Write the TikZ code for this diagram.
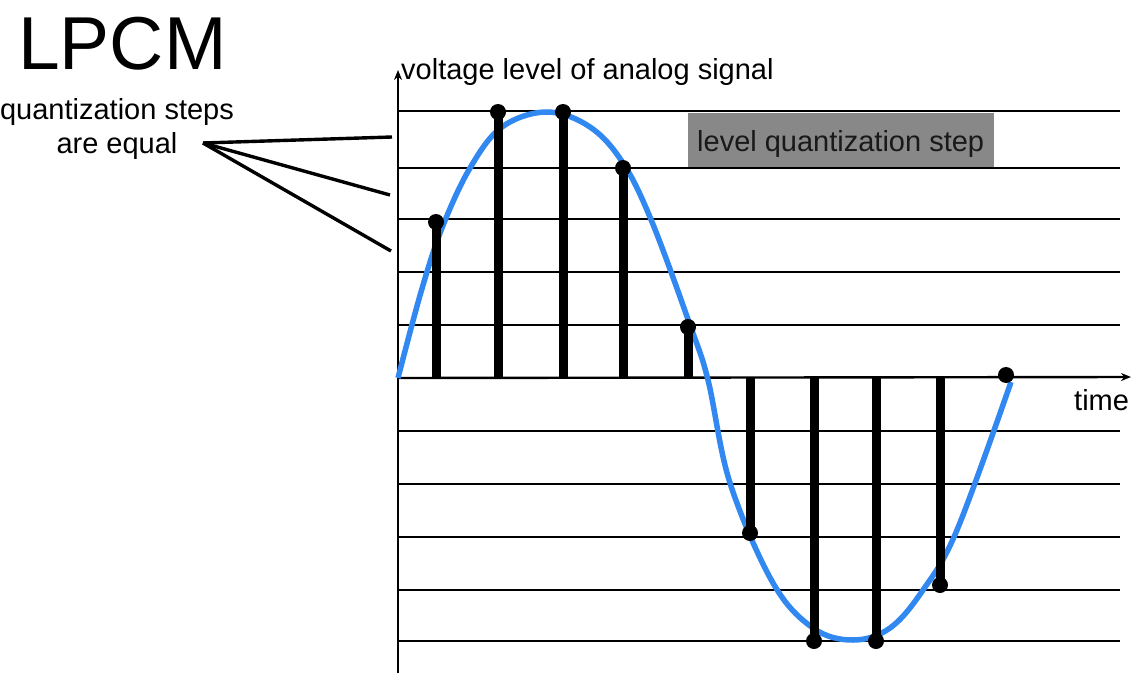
\documentclass[tikz,border=0pt]{standalone}
\usepackage{fontspec}
\setmainfont{Liberation Sans}
\usetikzlibrary{arrows.meta}
\definecolor{sigblue}{RGB}{48,136,240}
\definecolor{boxgray}{RGB}{136,136,136}
\tikzset{
  gridline/.style={line width=2.4pt,black},
  axisline/.style={line width=2.4pt,black,-{Stealth[length=10pt,width=8pt]}},
  stem/.style={line width=9pt,black},
  sdot/.style={circle,fill=black,inner sep=0pt,minimum size=16pt},
  pointer/.style={line width=3.4pt,black},
  lbl/.style={font=\fontsize{29}{33}\selectfont,inner sep=0pt},
  signal/.style={line width=5.5pt,sigblue}
}
\begin{document}
\begin{tikzpicture}[x=1pt,y=-1pt]
\useasboundingbox (0,0) rectangle (1142,674);
% gray box
\fill[boxgray] (688,113) rectangle (994,167);
\node[lbl,anchor=base west,text=black!90] (lqs) at (697,151) {level quantization step};
% grid lines
\foreach \yy in {111,168,219,272,325,431,484,537,590,641}
  \draw[gridline] (398,\yy) -- (1120,\yy);
% axes
\coordinate (o) at (398,378);
\coordinate (ybot) at (398,673);
\coordinate (ytop) at (398,70);
\coordinate (xend) at (1131,377);
\draw[axisline] (ybot) -- (ytop);
\draw[axisline] (o) -- (xend);
% signal
\draw[signal] plot[smooth,tension=0.6] coordinates {
 (398,378) (421,292) (442,228) (470,168) (502,127) (547,112)
 (590,127) (623,163) (652,222) (690,325) (708,380)
 (730,483) (773,583) (813,628) (853,640)
 (890,628) (923,590) (957,530) (1011,382)};
% samples
\foreach \i/\xx/\yy in {1/436/222, 2/498/112, 3/563/112, 4/623/168, 5/688/327,
  6/750/533, 7/814/641, 8/876/641, 9/940/585}{
  \coordinate (b\i) at (\xx,378);
  \node[sdot] (s\i) at (\xx,\yy) {};
  \draw[stem] (b\i) -- (s\i.center);
}
\node[sdot] (s10) at (1006,375) {};
% labels
\node[lbl,anchor=base west,font=\fontsize{75}{80}\selectfont] (title) at (18,70) {LPCM};
\node[lbl,anchor=base] (q1) at (117,120) {quantization steps};
\node[lbl,anchor=base] (q2) at (117,153) {are equal};
\node[lbl,anchor=base west] (ylab) at (401,80) {voltage level of analog signal};
\node[lbl,anchor=base west] (xlab) at (1074,410) {time};
% pointers
\coordinate (p0) at (203,143);
\coordinate (p1) at (392,137);
\coordinate (p2) at (390,195);
\coordinate (p3) at (391,251);
\draw[pointer] (p0) -- (p1);
\draw[pointer] (p0) -- (p2);
\draw[pointer] (p0) -- (p3);
\end{tikzpicture}
\end{document}
